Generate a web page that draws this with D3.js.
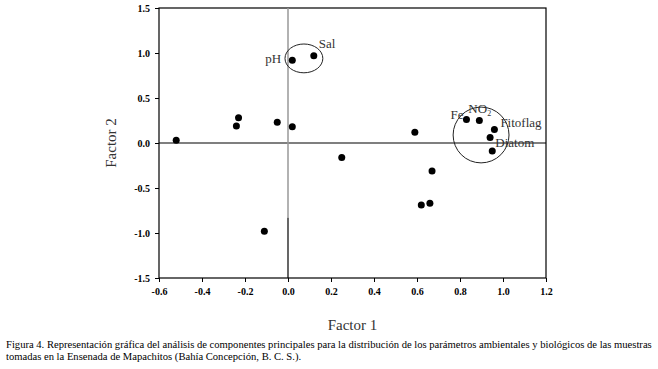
<!DOCTYPE html>
<html>
<head>
<meta charset="utf-8">
<script src="https://cdn.jsdelivr.net/npm/d3@7"></script>
<style>
  body { margin: 0; background: #fff; }
  svg { display: block; }
  .tick text { font-family: "Liberation Serif", serif; font-weight: bold; font-size: 10px; }
</style>
</head>
<body>
<svg id="chart" width="658" height="369"></svg>
<script>
// component loadings (Factor 1, Factor 2)
const factor1 = [-0.52, -0.24, -0.23, -0.05, 0.02, 0.02, 0.12, 0.25, 0.59, 0.67, 0.62, 0.66, -0.11, 0.83, 0.89, 0.96, 0.94, 0.95];
const factor2 = [0.03, 0.19, 0.28, 0.23, 0.18, 0.92, 0.97, -0.16, 0.12, -0.31, -0.69, -0.67, -0.98, 0.26, 0.25, 0.15, 0.06, -0.09];
const xTicks = [-0.6, -0.4, -0.2, 0.0, 0.2, 0.4, 0.6, 0.8, 1.0, 1.2];
const yTicks = [-1.5, -1.0, -0.5, 0.0, 0.5, 1.0, 1.5];
const labels = [
  { name: "pH", x: 0.02, y: 0.92 },
  { name: "Sal", x: 0.12, y: 0.97 },
  { name: "Fe", x: 0.83, y: 0.26 },
  { name: "NO", sub: "2", x: 0.89, y: 0.25 },
  { name: "Fitoflag", x: 0.96, y: 0.15 },
  { name: "Diatom", x: 0.95, y: -0.09 }
];
// groupings drawn as ellipses: centre and radii in data units
const groups = [
  { cx: 0.074, cy: 0.94, rx: 0.088, ry: 0.16 },
  { cx: 0.898, cy: 0.089, rx: 0.13, ry: 0.31 }
];

const svg = d3.select("#chart");
const MARGIN = { LEFT: 159, RIGHT: 112, TOP: 8, BOTTOM: 91 };
const width = 658, height = 369;

const x = d3.scaleLinear().domain([-0.6, 1.2]).range([MARGIN.LEFT, width - MARGIN.RIGHT]);
const y = d3.scaleLinear().domain([-1.5, 1.5]).range([height - MARGIN.BOTTOM, MARGIN.TOP]);

// frame
svg.append("rect")
  .attr("x", x(-0.6)).attr("y", y(1.5))
  .attr("width", x(1.2) - x(-0.6)).attr("height", y(-1.5) - y(1.5))
  .attr("fill", "none").attr("stroke", "#000").attr("stroke-width", 1.2);

// zero lines
svg.append("line")
  .attr("x1", x(-0.6)).attr("x2", x(1.2)).attr("y1", y(0)).attr("y2", y(0))
  .attr("stroke", "#000").attr("stroke-width", 1.2);
svg.append("line")
  .attr("x1", x(0)).attr("x2", x(0)).attr("y1", y(1.5)).attr("y2", y(-0.83))
  .attr("stroke", "#999").attr("stroke-width", 1.5);
svg.append("line")
  .attr("x1", x(0)).attr("x2", x(0)).attr("y1", y(-0.83)).attr("y2", y(-1.5))
  .attr("stroke", "#000").attr("stroke-width", 1.2);

const xAxis = svg.append("g")
  .attr("transform", `translate(0,${y(-1.5)})`)
  .call(d3.axisBottom(x).tickValues(xTicks).tickFormat(d3.format(".1f")).tickSize(4).tickPadding(6));
const yAxis = svg.append("g")
  .attr("transform", `translate(${x(-0.6)},0)`)
  .call(d3.axisLeft(y).tickValues(yTicks).tickFormat(d3.format(".1f")).tickSize(4).tickPadding(5));
[xAxis, yAxis].forEach(g => {
  g.select(".domain").remove();
  g.selectAll(".tick line").attr("stroke", "#000");
  g.selectAll(".tick text").attr("fill", "#000");
});
// hyphen-like minus as in the original
svg.selectAll(".tick text").text(d => d3.format(".1f")(d).replace("−", "-"));

// ellipses
svg.append("g").selectAll("ellipse")
  .data(groups)
  .join("ellipse")
  .attr("cx", d => x(d.cx)).attr("cy", d => y(d.cy))
  .attr("rx", d => x(d.rx) - x(0)).attr("ry", d => y(0) - y(d.ry))
  .attr("fill", "none").attr("stroke", "#222").attr("stroke-width", 1);

// points
svg.append("g").selectAll("circle")
  .data(factor1.map((v, i) => [v, factor2[i]]))
  .join("circle")
  .attr("cx", d => x(d[0])).attr("cy", d => y(d[1]))
  .attr("r", 3.5).attr("fill", "#000");

// labels
const labelOffsets = {
  "pH": [-27, 3], "Sal": [5, -8], "Fe": [-16, -1], "NO": [-11, -8],
  "Fitoflag": [6, -3], "Diatom": [3, -4]
};
const lab = svg.append("g")
  .attr("font-family", "Liberation Serif, serif")
  .attr("font-size", 13).attr("fill", "#333");
labels.forEach(d => {
  const off = labelOffsets[d.name];
  const t = lab.append("text")
    .attr("x", x(d.x) + off[0]).attr("y", y(d.y) + off[1]);
  t.append("tspan").text(d.name);
  if (d.sub) t.append("tspan").attr("font-size", 8).attr("dy", 3).text(d.sub);
});

// axis titles
svg.append("text")
  .attr("x", (x(-0.6) + x(1.2)) / 2).attr("y", 330)
  .attr("text-anchor", "middle")
  .attr("font-family", "Liberation Serif, serif").attr("font-size", 15).attr("fill", "#333")
  .text("Factor 1");
svg.append("text")
  .attr("transform", `translate(116,${y(0)}) rotate(-90)`)
  .attr("text-anchor", "middle")
  .attr("font-family", "Liberation Serif, serif").attr("font-size", 15).attr("fill", "#333")
  .text("Factor 2");

// caption
const captionLines = [
  "Figura 4. Representación gráfica del análisis de componentes principales para la distribución de los parámetros ambientales y biológicos de las muestras",
  "tomadas en la Ensenada de Mapachitos (Bahía Concepción, B. C. S.)."
];
svg.append("g")
  .attr("font-family", "Liberation Serif, serif").attr("font-size", 10.6).attr("fill", "#000")
  .selectAll("text")
  .data(captionLines)
  .join("text")
  .attr("x", 6).attr("y", (d, i) => 348 + i * 12)
  .text(d => d);
</script>
</body>
</html>
